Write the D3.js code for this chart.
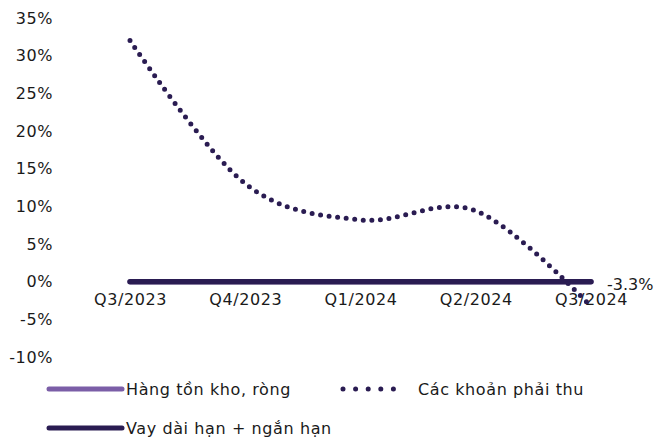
<!DOCTYPE html>
<html lang="vi">
<head>
<meta charset="utf-8">
<script src="https://d3js.org/d3.v7.min.js"></script>
<style>
  body { margin: 0; background: #fff; }
  text { font-family: "DejaVu Sans", sans-serif; fill: #1a1a1a; }
</style>
</head>
<body>
<svg id="chart"></svg>
<script>
// categories and values (%)
var quarters = ["Q3/2023", "Q4/2023", "Q1/2024", "Q2/2024", "Q3/2024"];
var receivables = [32.0, 13.0, 8.2, 9.4, -3.3];   // Các khoản phải thu
var inventory = [0, 0, 0, 0, 0];                  // Hàng tồn kho, ròng
var borrowings = [0, 0, 0, 0, 0];                 // Vay dài hạn + ngắn hạn
var yTicks = [35, 30, 25, 20, 15, 10, 5, 0, -5, -10];

var config = { w: 661, h: 442 };
var colors = { light: "#7b5ea7", dark: "#2a1c52" };

var svg = d3.select("#chart")
  .attr("width", config.w)
  .attr("height", config.h);

var x = d3.scalePoint().domain(quarters).range([130, 591]);
var y = d3.scaleLinear().domain([-10, 35]).range([357, 18]);

// y axis labels, no lines
var yAxis = d3.axisLeft(y).tickValues(yTicks)
  .tickFormat(function(d) { return d + "%"; })
  .tickSize(0).tickPadding(0);
var gy = svg.append("g").attr("transform", "translate(53,0)").call(yAxis);
gy.select(".domain").remove();
gy.selectAll("text")
  .style("font-family", "DejaVu Sans")
  .style("font-size", "16px")
  .style("letter-spacing", "0.6px")
  .attr("fill", "#1a1a1a");

// x axis labels just below the zero line
var xAxis = d3.axisBottom(x).tickSize(0).tickPadding(0);
var gx = svg.append("g").attr("transform", "translate(0," + (y(0) + 12) + ")").call(xAxis);
gx.select(".domain").remove();
gx.selectAll("text")
  .style("font-family", "DejaVu Sans")
  .style("font-size", "16px")
  .style("letter-spacing", "0.6px")
  .attr("fill", "#1a1a1a");

var smooth = d3.line()
  .curve(d3.curveCatmullRom.alpha(0))
  .x(function(d, i) { return x(quarters[i]); })
  .y(function(d) { return y(d); });

svg.append("path")
  .datum(inventory)
  .attr("d", smooth)
  .attr("fill", "none")
  .attr("stroke", colors.light)
  .attr("stroke-width", 5)
  .attr("stroke-linecap", "round");

svg.append("path")
  .datum(borrowings)
  .attr("d", smooth)
  .attr("fill", "none")
  .attr("stroke", colors.dark)
  .attr("stroke-width", 5.5)
  .attr("stroke-linecap", "round");

svg.append("path")
  .datum(receivables)
  .attr("d", smooth)
  .attr("fill", "none")
  .attr("stroke", colors.dark)
  .attr("stroke-width", 5)
  .attr("stroke-linecap", "round")
  .attr("stroke-dasharray", "0 8.6");

// end label (plain hyphen as in the reference)
var last = receivables[receivables.length - 1];
svg.append("text")
  .attr("x", x(quarters[quarters.length - 1]) + 16)
  .attr("y", y(0) + 8)
  .style("font-size", "16px")
  .text(last.toFixed(1) + "%");

// legend
var legend = [
  { name: "Hàng tồn kho, ròng", color: colors.light, dots: false, x: 49, y: 389 },
  { name: "Các khoản phải thu", color: colors.dark, dots: true, x: 343, y: 389 },
  { name: "Vay dài hạn + ngắn hạn", color: colors.dark, dots: false, x: 49, y: 428 }
];

var lg = svg.selectAll(".legend")
  .data(legend)
  .enter()
  .append("g")
  .attr("class", "legend")
  .attr("transform", function(d) { return "translate(" + d.x + "," + d.y + ")"; });

lg.append("line")
  .attr("x1", 0)
  .attr("x2", function(d) { return d.dots ? 63 : 73; })
  .attr("stroke", function(d) { return d.color; })
  .attr("stroke-width", 5)
  .attr("stroke-linecap", "round")
  .attr("stroke-dasharray", function(d) { return d.dots ? "0 12.6" : null; });

lg.append("text")
  .attr("x", function(d) { return d.dots ? 75 : 77; })
  .attr("dy", "0.35em")
  .style("font-size", "16px")
  .style("letter-spacing", "0.6px")
  .text(function(d) { return d.name; });
</script>
</body>
</html>
